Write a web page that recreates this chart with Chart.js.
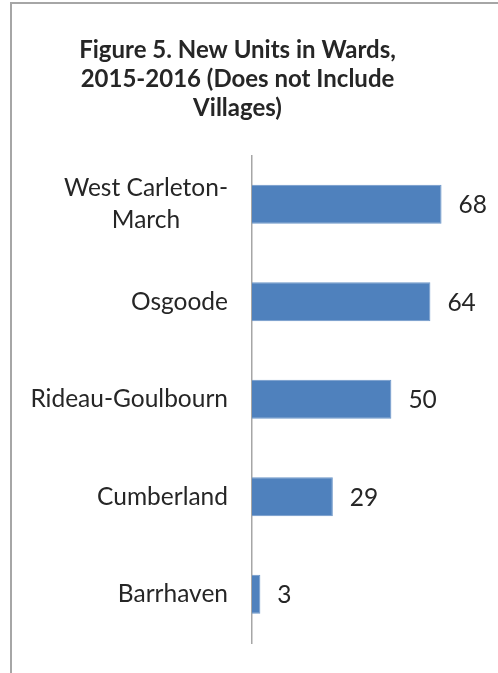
<!DOCTYPE html>
<html>
<head>
<meta charset="utf-8">
<script src="https://cdn.jsdelivr.net/npm/chart.js@4"></script>
<style>
  html, body { margin: 0; padding: 0; background: #fff; }
  #wrap { width: 498px; height: 673px; }
</style>
</head>
<body>
<div id="wrap"><canvas id="myChart" width="498" height="673"></canvas></div>
<script>
// data
var wards = ['West Carleton-\nMarch', 'Osgoode', 'Rideau-Goulbourn', 'Cumberland', 'Barrhaven'];
var new_units = [68, 64, 50, 29, 3];
var titre = ['Figure 5. New Units in Wards,', '2015-2016 (Does not Include', 'Villages)'];

var couleur_texte = '#262626';
var police = 'Lato, "Open Sans", sans-serif';

// border of the original chart box (only top and left are visible)
var cadre = {
    id: 'cadre',
    beforeDraw: function (chart) {
        var c = chart.ctx;
        c.save();
        c.strokeStyle = '#a6a6a6';
        c.lineWidth = 2;
        c.beginPath();
        c.moveTo(11, chart.height);
        c.lineTo(11, 3);
        c.lineTo(chart.width, 3);
        c.stroke();
        c.restore();
    }
};

// category labels (centred lines, block right aligned) and value labels
var etiquettes = {
    id: 'etiquettes',
    afterDatasetsDraw: function (chart) {
        var c = chart.ctx;
        var y = chart.scales.y;
        var meta = chart.getDatasetMeta(0);
        c.save();
        c.font = '24.5px ' + police;
        c.fillStyle = couleur_texte;
        c.textBaseline = 'middle';
        wards.forEach(function (nom, i) {
            var lignes = nom.split('\n');
            var py = y.getPixelForValue(i);
            var w = Math.max.apply(null, lignes.map(function (l) { return c.measureText(l).width; }));
            var cx = y.right - 24 - w / 2;
            c.textAlign = 'center';
            lignes.forEach(function (l, j) {
                c.fillText(l, cx, py + (j - (lignes.length - 1) / 2) * 32);
            });
        });
        c.textAlign = 'left';
        meta.data.forEach(function (bar, i) {
            c.fillText(String(new_units[i]), bar.x + 17, bar.y + 1);
        });
        c.restore();
    }
};

var ctx = document.getElementById('myChart').getContext('2d');
var myChart = new Chart(ctx, {
    type: 'bar',
    data: {
        labels: wards,
        datasets: [{
            label: 'New units',
            data: new_units,
            backgroundColor: '#4f81bd',
            borderColor: '#6d97c9',
            borderWidth: 1,
            barPercentage: 0.4,
            categoryPercentage: 1
        }]
    },
    options: {
        indexAxis: 'y',
        responsive: false,
        animation: false,
        layout: {
            padding: { left: 0, right: 23, top: 0, bottom: 30 }
        },
        plugins: {
            legend: { display: false },
            tooltip: { enabled: false },
            title: {
                display: true,
                text: titre,
                color: couleur_texte,
                font: { family: police, size: 24, weight: 'bold', lineHeight: 1.2 },
                padding: { top: 36, bottom: 33 }
            }
        },
        scales: {
            x: {
                display: false,
                min: 0,
                max: 80
            },
            y: {
                grid: { display: false, drawTicks: false },
                border: { display: true, color: '#a6a6a6', width: 1.5 },
                ticks: { display: false },
                afterFit: function (axis) { axis.width = 252; }
            }
        }
    },
    plugins: [cadre, etiquettes]
});
</script>
</body>
</html>
